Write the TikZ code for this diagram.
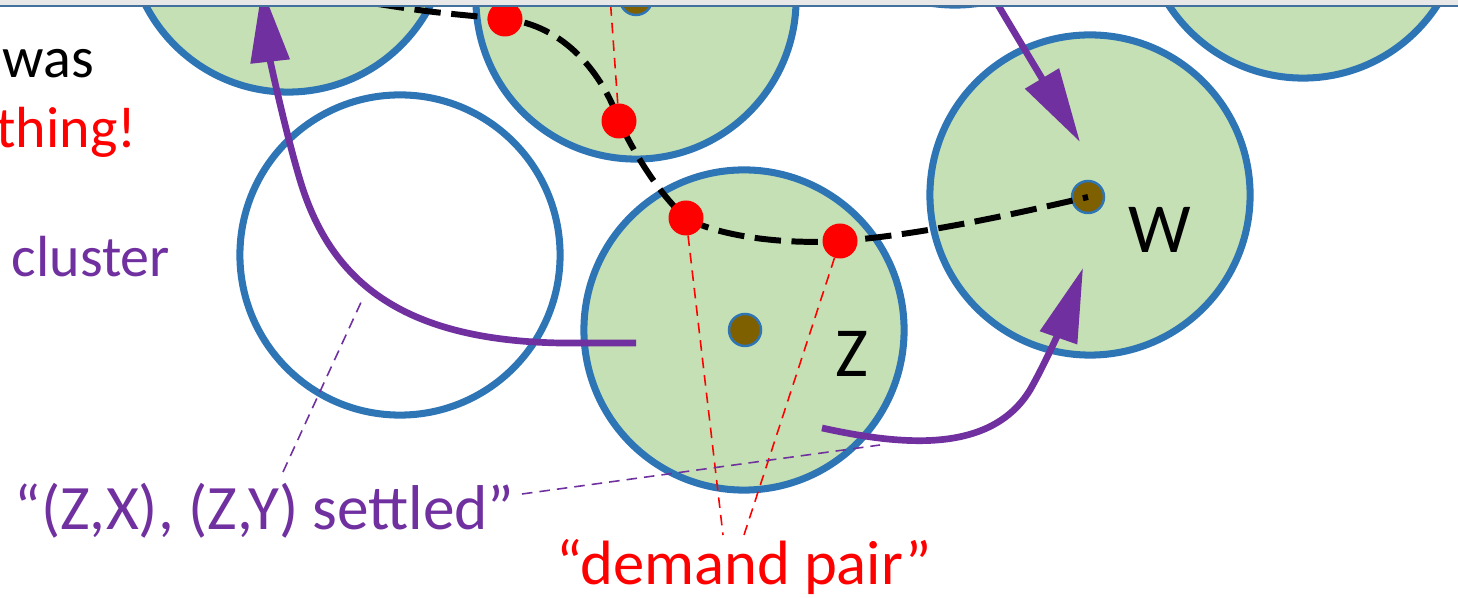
\documentclass[tikz,border=0pt]{standalone}
\usepackage{fontspec}
\setmainfont{Carlito}
\usepackage{xcolor}
\usepackage{tikz}
\usetikzlibrary{arrows.meta,positioning}
\definecolor{diskgreen}{HTML}{C5E0B4}
\definecolor{ringblue}{HTML}{2E75B6}
\definecolor{settlepurple}{HTML}{7030A0}
\definecolor{hubbrown}{HTML}{7F6000}
\definecolor{barblue}{HTML}{41719C}
\newcommand{\txtsize}[1]{\fontsize{#1}{#1}\selectfont}

\begin{document}
\begin{tikzpicture}[x=0.01cm, y=-0.01cm,
  disk/.style={circle, draw=ringblue, line width=2pt, fill=diskgreen,
    minimum size=3.2cm, inner sep=0pt},
  hub/.style={circle, draw=ringblue, line width=0.7pt, fill=hubbrown,
    minimum size=0.32cm, inner sep=0pt},
  hit/.style={circle, fill=red, minimum size=0.35cm, inner sep=0pt},
  route/.style={draw=black, line width=1.7pt, dash pattern=on 7.5pt off 3pt},
  pairline/.style={draw=red, line width=0.45pt, dash pattern=on 3pt off 2pt},
  settleline/.style={draw=settlepurple, line width=0.45pt, dash pattern=on 3pt off 2pt},
  jump/.style={-{Triangle[length=0.74cm,width=0.38cm]}, line width=1.9pt,
    draw=settlepurple},
  word/.style={inner sep=0pt, font=\txtsize{16.5}}]
\path[use as bounding box] (0,0) rectangle (1458,598);
\clip (0,0) rectangle (1458,598);

% clusters
\node[disk] (tx) at (955,-155) {};
\node[disk] (tl) at (288,-68) {};
\node[disk] (tm) at (636,-1) {};
\node[disk] (tr) at (1303,-82) {};
\node[disk, fill=white] (wh) at (400,255) {};
\node[disk] (zc) at (744,330) {};
\node[disk] (wc) at (1090,195) {};

% centres
\node[hub] (tmhub) at (636,-1) {};
\node[hub] (zhub) at (745,330) {};
\node[hub] (whub) at (1088,197) {};
\node[font=\txtsize{20}, anchor=base] (zlab) at (852,377) {Z};
\node[font=\txtsize{20}, anchor=base] (wlab) at (1160,253) {W};

% demand pair marks
\coordinate (d1) at (505,19);
\coordinate (d2) at (619,121);
\coordinate (d3) at (686,218);
\coordinate (d4) at (840,241);
\coordinate (uptop) at (610,-4);
\coordinate (footl) at (723,535);
\coordinate (footr) at (744,535);
\draw[pairline] (d2) -- (uptop);
\draw[pairline] (d3) -- (footl);
\draw[pairline] (d4) -- (footr);

% settled notes
\coordinate (settlea) at (283,472);
\coordinate (settleb) at (522,494);
\coordinate (whmark) at (363,298);
\coordinate (zmark) at (880,445);
\draw[settleline] (settlea) -- (whmark);
\draw[settleline] (settleb) -- (zmark);

% the path
\coordinate (entry) at (378,4);
\draw[route] (entry) .. controls (430,12) .. (d1)
  .. controls (565,25) and (603,75) .. (d2)
  .. controls (635,155) and (660,195) .. (d3)
  .. controls (715,235) and (780,245) .. (d4)
  .. controls (920,235) and (1010,215) .. (whub.center);
\foreach \d in {d1,d2,d3,d4}
  \node[hit] (hit\d) at (\d) {};

% moves
\coordinate (za) at (636,343);
\coordinate (tla) at (262,-12);
\coordinate (zb) at (822,428);
\coordinate (wb) at (1083,268);
\coordinate (txc) at (992,-5);
\coordinate (wt) at (1080,142);
\draw[jump] (za) -- (560,343) .. controls (400,340) and (330,280) .. (300,180)
  .. controls (285,130) and (270,60) .. (tla);
\draw[jump] (zb) .. controls (900,445) and (990,455) .. (1030,390)
  .. controls (1050,355) and (1070,305) .. (wb);
\draw[jump] (txc) -- (wt);

% slide edge
\fill[black!9] (0,0) rectangle (1458,5);
\fill[barblue] (0,5) rectangle (1458,7);

% texts
\node[word, anchor=base west] (was) at (2,78) {was};
\node[word, anchor=base east, text=red] (thing) at (137,148) {thing!};
\node[word, anchor=base west, text=settlepurple] (cluster) at (11,277) {cluster};
\node[inner sep=0pt, font=\txtsize{18}, text=settlepurple, anchor=base west]
  (settled) at (14,530) {“(Z,X), (Z,Y) settled”};
\node[inner sep=0pt, font=\txtsize{17.8}, text=red, anchor=base]
  (demand) at (744.5,585) {“demand pair”};
\end{tikzpicture}
\end{document}
